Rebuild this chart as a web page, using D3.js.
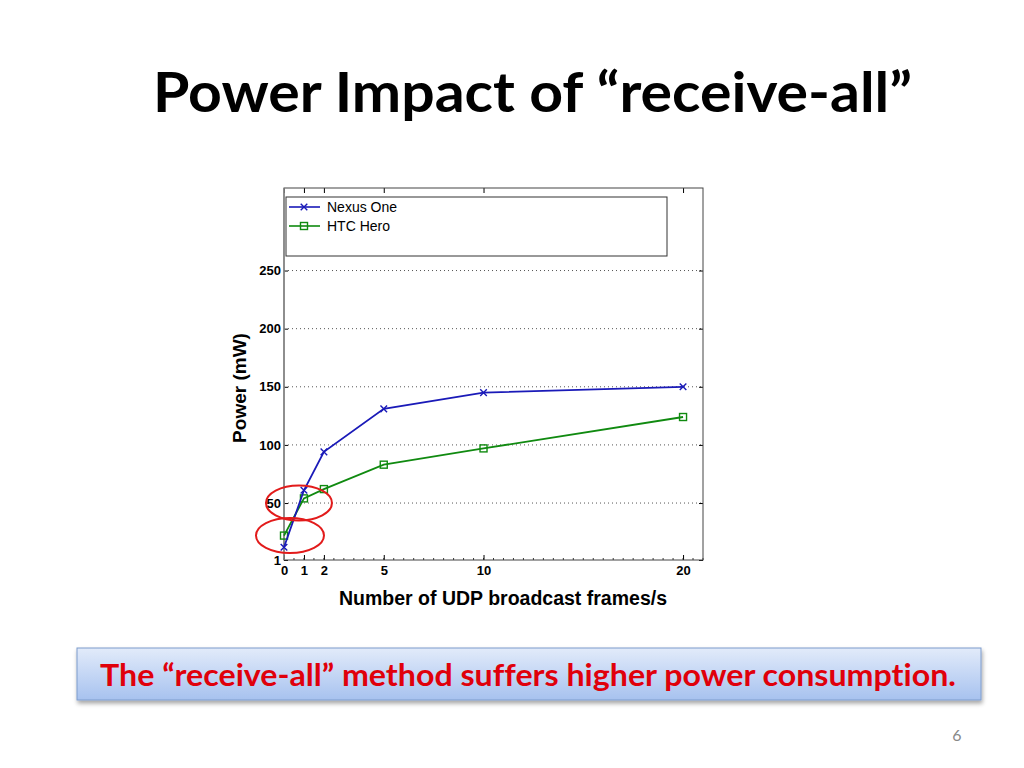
<!DOCTYPE html>
<html>
<head>
<meta charset="utf-8">
<script src="https://cdn.jsdelivr.net/npm/d3@7"></script>
<style>
  body { margin: 0; background: #fff; }
  svg { display: block; }
  text { font-variant-ligatures: none; }
</style>
</head>
<body>
<script>
var width = 1024, height = 768;

// data
var frames = [0, 1, 2, 5, 10, 20];
var nexusOne = [12, 61, 94, 131, 145, 150];
var htcHero = [22, 54, 62, 83, 97, 124];
var seriesNames = ["Nexus One", "HTC Hero"];
var xTicks = [0, 1, 2, 5, 10, 20];
var yTicks = [1, 50, 100, 150, 200, 250];

var svg = d3.select("body").append("svg")
  .attr("width", width)
  .attr("height", height);

var defs = svg.append("defs");
var grad = defs.append("linearGradient").attr("id", "boxGrad")
  .attr("x1", 0).attr("y1", 0).attr("x2", 0).attr("y2", 1);
grad.append("stop").attr("offset", "0%").attr("stop-color", "#e2ebfa");
grad.append("stop").attr("offset", "100%").attr("stop-color", "#a7c2ef");
var shadow = defs.append("filter").attr("id", "shadow")
  .attr("x", "-5%").attr("y", "-20%").attr("width", "110%").attr("height", "160%");
shadow.append("feDropShadow").attr("dx", 1).attr("dy", 3).attr("stdDeviation", 2)
  .attr("flood-color", "#000").attr("flood-opacity", 0.35);

// title
svg.append("text")
  .attr("x", 153).attr("y", 112)
  .attr("textLength", 759)
  .attr("lengthAdjust", "spacingAndGlyphs")
  .style("font-family", "Lato, 'Open Sans', sans-serif")
  .style("font-weight", "bold")
  .style("font-size", "55px")
  .attr("fill", "#000")
  .text("Power Impact of \u201creceive-all\u201d");

// plot area
var pLeft = 284, pRight = 703, pTop = 188, pBottom = 560;
var x = d3.scaleLinear().domain([0, 21]).range([pLeft, pRight]);
var y = d3.scaleLinear().domain([1, 321]).range([pBottom, pTop]);

var plot = svg.append("g");
plot.append("rect")
  .attr("x", pLeft).attr("y", pTop)
  .attr("width", pRight - pLeft).attr("height", pBottom - pTop)
  .attr("fill", "#fff");

// dotted grid
plot.selectAll("line.grid")
  .data(yTicks.slice(1))
  .enter().append("line")
  .attr("class", "grid")
  .attr("x1", pLeft).attr("x2", pRight)
  .attr("y1", function(d) { return y(d); })
  .attr("y2", function(d) { return y(d); })
  .attr("stroke", "#555")
  .attr("stroke-width", 1)
  .attr("stroke-dasharray", "1,3");

// axes
var axisStyle = function(g) {
  g.select(".domain").remove();
  g.selectAll("text")
    .style("font-family", "'Liberation Sans', Arial, sans-serif")
    .style("font-weight", "bold")
    .style("font-size", "13px")
    .attr("fill", "#000");
  g.selectAll(".tick line").attr("stroke", "#000");
};

// minor ticks on the bottom
plot.selectAll("line.minor")
  .data(d3.range(0, 21.01, 0.5))
  .enter().append("line")
  .attr("class", "minor")
  .attr("x1", function(d) { return x(d); })
  .attr("x2", function(d) { return x(d); })
  .attr("y1", pBottom).attr("y2", pBottom - 2)
  .attr("stroke", "#333");

plot.append("g")
  .attr("transform", "translate(0," + pBottom + ")")
  .call(d3.axisBottom(x).tickValues(xTicks).tickSize(-5).tickPadding(6).tickFormat(d3.format("d")))
  .call(axisStyle);
plot.append("g")
  .attr("transform", "translate(0," + pTop + ")")
  .call(d3.axisTop(x).tickValues(xTicks).tickSize(-5).tickFormat(""))
  .call(axisStyle);
plot.append("g")
  .attr("transform", "translate(" + pLeft + ",0)")
  .call(d3.axisLeft(y).tickValues(yTicks).tickSize(-4).tickPadding(3).tickFormat(d3.format("d")))
  .call(axisStyle);
plot.append("g")
  .attr("transform", "translate(" + pRight + ",0)")
  .call(d3.axisRight(y).tickValues(yTicks).tickSize(-4).tickFormat(""))
  .call(axisStyle);

plot.append("rect")
  .attr("x", pLeft).attr("y", pTop)
  .attr("width", pRight - pLeft).attr("height", pBottom - pTop)
  .attr("fill", "none")
  .attr("stroke", "#444")
  .attr("stroke-width", 1);
plot.append("line")
  .attr("x1", pLeft).attr("x2", pLeft)
  .attr("y1", pTop).attr("y2", pBottom)
  .attr("stroke", "#8a8a8a")
  .attr("stroke-width", 1.6);

// series
var line = d3.line()
  .x(function(d) { return x(d[0]); })
  .y(function(d) { return y(d[1]); });

var nexusData = frames.map(function(f, i) { return [f, nexusOne[i]]; });
var htcData = frames.map(function(f, i) { return [f, htcHero[i]]; });

plot.append("path")
  .datum(htcData)
  .attr("d", line)
  .attr("fill", "none")
  .attr("stroke", "#108a10")
  .attr("stroke-width", 1.8);
plot.selectAll("rect.htc")
  .data(htcData)
  .enter().append("rect")
  .attr("class", "htc")
  .attr("x", function(d) { return x(d[0]) - 3.5; })
  .attr("y", function(d) { return y(d[1]) - 3.5; })
  .attr("width", 7).attr("height", 7)
  .attr("fill", "none")
  .attr("stroke", "#108a10")
  .attr("stroke-width", 1.4);

plot.append("path")
  .datum(nexusData)
  .attr("d", line)
  .attr("fill", "none")
  .attr("stroke", "#1a1ab8")
  .attr("stroke-width", 1.8);
var cross = d3.symbol().type(d3.symbolX).size(30);
plot.selectAll("path.nexus")
  .data(nexusData)
  .enter().append("path")
  .attr("class", "nexus")
  .attr("transform", function(d) { return "translate(" + x(d[0]) + "," + y(d[1]) + ")"; })
  .attr("d", cross)
  .attr("fill", "none")
  .attr("stroke", "#1a1ab8")
  .attr("stroke-width", 1.4);

// legend
var lg = svg.append("g");
lg.append("rect")
  .attr("x", 286).attr("y", 197)
  .attr("width", 381).attr("height", 59)
  .attr("fill", "#fff")
  .attr("stroke", "#333");
var legendRows = [
  { name: seriesNames[0], color: "#1a1ab8", marker: "x" },
  { name: seriesNames[1], color: "#108a10", marker: "sq" }
];
legendRows.forEach(function(r, i) {
  var ly = 207 + i * 19;
  lg.append("line")
    .attr("x1", 289).attr("x2", 320)
    .attr("y1", ly).attr("y2", ly)
    .attr("stroke", r.color).attr("stroke-width", 1.6);
  if (r.marker === "x") {
    lg.append("path")
      .attr("transform", "translate(304," + ly + ")")
      .attr("d", cross)
      .attr("fill", "none").attr("stroke", r.color).attr("stroke-width", 1.4);
  } else {
    lg.append("rect")
      .attr("x", 300.5).attr("y", ly - 3.5)
      .attr("width", 7).attr("height", 7)
      .attr("fill", "none").attr("stroke", r.color).attr("stroke-width", 1.4);
  }
  lg.append("text")
    .attr("x", 327).attr("y", ly + 5)
    .style("font-family", "'Liberation Sans', Arial, sans-serif")
    .style("font-size", "14px")
    .attr("fill", "#000")
    .text(r.name);
});

// red highlight ellipses
var highlights = [
  { fx: 0.75, py: 50, rx: 33, ry: 17.5 },
  { fx: 0.3, py: 22, rx: 34, ry: 17.5 }
];
svg.selectAll("ellipse.hl")
  .data(highlights)
  .enter().append("ellipse")
  .attr("class", "hl")
  .attr("cx", function(d) { return x(d.fx); })
  .attr("cy", function(d) { return y(d.py); })
  .attr("rx", function(d) { return d.rx; })
  .attr("ry", function(d) { return d.ry; })
  .attr("fill", "none")
  .attr("stroke", "#e21b1b")
  .attr("stroke-width", 2);

// axis titles
svg.append("text")
  .attr("transform", "translate(246,388) rotate(-90)")
  .attr("text-anchor", "middle")
  .style("font-family", "'Liberation Sans', Arial, sans-serif")
  .style("font-weight", "bold")
  .style("font-size", "19px")
  .text("Power (mW)");
svg.append("text")
  .attr("x", 503).attr("y", 605)
  .attr("text-anchor", "middle")
  .style("font-family", "'Liberation Sans', Arial, sans-serif")
  .style("font-weight", "bold")
  .style("font-size", "19.5px")
  .text("Number of UDP broadcast frames/s");

// conclusion box
svg.append("rect")
  .attr("x", 77).attr("y", 648)
  .attr("width", 904).attr("height", 52)
  .attr("fill", "url(#boxGrad)")
  .attr("stroke", "#7d9ccc")
  .attr("stroke-width", 1)
  .attr("filter", "url(#shadow)");
svg.append("text")
  .attr("x", 100).attr("y", 686)
  .attr("textLength", 856)
  .attr("lengthAdjust", "spacingAndGlyphs")
  .style("font-family", "Lato, 'Open Sans', sans-serif")
  .style("font-weight", "bold")
  .style("font-size", "31px")
  .attr("fill", "#e0000b")
  .text("The \u201creceive-all\u201d method suffers higher power consumption.");

// page number
svg.append("text")
  .attr("x", 957).attr("y", 741)
  .attr("text-anchor", "middle")
  .style("font-family", "Lato, 'Open Sans', sans-serif")
  .style("font-size", "16px")
  .attr("fill", "#888")
  .text("6");
</script>
</body>
</html>
